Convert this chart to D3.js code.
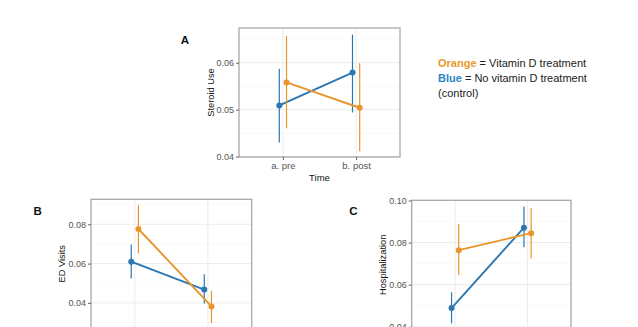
<!DOCTYPE html>
<html><head><meta charset="utf-8">
<script src="https://cdn.jsdelivr.net/npm/d3@7"></script>
<style>
body{margin:0;background:#fff;}
svg{display:block;font-family:"Liberation Sans",Arial,sans-serif;}
</style></head><body>
<svg id="c" width="638" height="327"></svg>
<script>
// ---- data ----
const times = ["a. pre", "b. post"];
const groups = ["Blue", "Orange"];
// Panel A: Steroid Use
const steroidBlue = [0.0509, 0.0579];
const steroidBlueLo = [0.0430, 0.0494];
const steroidBlueHi = [0.0587, 0.0660];
const steroidOrange = [0.0558, 0.0504];
const steroidOrangeLo = [0.0460, 0.0411];
const steroidOrangeHi = [0.0657, 0.0599];
const steroidTicks = [0.04, 0.05, 0.06];
// Panel B: ED Visits
const edBlue = [0.0610, 0.0468];
const edBlueLo = [0.0524, 0.0397];
const edBlueHi = [0.0697, 0.0546];
const edOrange = [0.0776, 0.0382];
const edOrangeLo = [0.0651, 0.0298];
const edOrangeHi = [0.0897, 0.0461];
const edTicks = [0.04, 0.06, 0.08];
// Panel C: Hospitalization
const hospBlue = [0.0489, 0.0871];
const hospBlueLo = [0.0416, 0.0778];
const hospBlueHi = [0.0564, 0.0971];
const hospOrange = [0.0764, 0.0845];
const hospOrangeLo = [0.0646, 0.0725];
const hospOrangeHi = [0.0888, 0.0963];
const hospTicks = [0.04, 0.06, 0.08, 0.10];

const colors = {Blue: "#2a77b2", Orange: "#e8962c"};

const svg = d3.select("#c");

function panel(opt) {
  const {x0, x1, y0, y1, domain, ticks, title, letter, lx, ly, series, showX} = opt;
  const g = svg.append("g");
  const x = d3.scalePoint().domain(times).range([x0, x1]).padding(0.6);
  const y = d3.scaleLinear().domain(domain).range([y1, y0]);
  // grid
  const minor = [];
  for (let i = 0; i < ticks.length + 1; i++) {
    const step = ticks[1] - ticks[0];
    const m = ticks[0] + step * (i - 0.5);
    if (m > domain[0] && m < domain[1]) minor.push(m);
  }
  g.selectAll(".mn").data(minor).join("line")
    .attr("x1", x0).attr("x2", x1).attr("y1", d => y(d)).attr("y2", d => y(d))
    .attr("stroke", "#f5f5f5").attr("stroke-width", 0.6);
  g.selectAll(".gy").data(ticks.filter(t => t >= domain[0] && t <= domain[1])).join("line")
    .attr("x1", x0).attr("x2", x1).attr("y1", d => y(d)).attr("y2", d => y(d))
    .attr("stroke", "#ececec").attr("stroke-width", 1);
  g.selectAll(".gx").data(times).join("line")
    .attr("x1", d => x(d)).attr("x2", d => x(d)).attr("y1", y0).attr("y2", y1)
    .attr("stroke", "#ececec").attr("stroke-width", 1);
  // series
  series.forEach(s => {
    const px = (d, i) => x(times[i]) + s.dodge;
    g.selectAll(null).data(s.lo).join("line")
      .attr("x1", px).attr("x2", px)
      .attr("y1", d => y(d)).attr("y2", (d, i) => y(s.hi[i]))
      .attr("stroke", s.color).attr("stroke-width", 1.2);
    const line = d3.line().x((d, i) => px(d, i)).y(d => y(d));
    g.append("path").attr("d", line(s.v)).attr("fill", "none")
      .attr("stroke", s.color).attr("stroke-width", 1.9);
    g.selectAll(null).data(s.v).join("circle")
      .attr("cx", px).attr("cy", d => y(d)).attr("r", 3).attr("fill", s.color);
  });
  // border
  g.append("rect").attr("x", x0).attr("y", y0).attr("width", x1 - x0).attr("height", y1 - y0)
    .attr("fill", "none").attr("stroke", "#a8a8a8").attr("stroke-width", 1.3);
  // y axis
  const ya = g.append("g").attr("transform", `translate(${x0},0)`)
    .call(d3.axisLeft(y).tickValues(ticks).tickFormat(d3.format(".2f")).tickSize(3).tickPadding(2));
  ya.select(".domain").remove();
  ya.selectAll("line").attr("stroke", "#666");
  ya.selectAll("text").attr("fill", "#555").attr("font-size", 9).attr("font-family", "Liberation Sans, Arial, sans-serif");
  if (showX) {
    const xa = g.append("g").attr("transform", `translate(0,${y1})`)
      .call(d3.axisBottom(x).tickSize(3).tickPadding(2));
    xa.select(".domain").remove();
    xa.selectAll("line").attr("stroke", "#666");
    xa.selectAll("text").attr("fill", "#555").attr("font-size", 9.5).attr("font-family", "Liberation Sans, Arial, sans-serif");
    g.append("text").attr("x", (x0 + x1) / 2).attr("y", y1 + 24).attr("text-anchor", "middle")
      .attr("font-size", 9.5).attr("fill", "#111").text("Time");
  }
  g.append("text").attr("transform", `translate(${opt.tx},${(y0 + y1) / 2}) rotate(-90)`)
    .attr("text-anchor", "middle").attr("dominant-baseline", "central")
    .attr("font-size", 9.3).attr("fill", "#111").text(title);
  g.append("text").attr("x", lx).attr("y", ly).attr("text-anchor", "middle")
    .attr("dominant-baseline", "central").attr("font-size", 11.5).attr("font-weight", "bold")
    .attr("fill", "#111").text(letter);
}

const dodge = 3.6;
function mk(b, bl, bh, o, ol, oh) {
  return [
    {v: b, lo: bl, hi: bh, color: colors.Blue, dodge: -dodge},
    {v: o, lo: ol, hi: oh, color: colors.Orange, dodge: dodge}
  ];
}

panel({x0: 239, x1: 400, y0: 28, y1: 157, domain: [0.0399, 0.0674], ticks: steroidTicks,
  title: "Steroid Use", letter: "A", lx: 185, ly: 40, tx: 210.5, showX: true,
  series: mk(steroidBlue, steroidBlueLo, steroidBlueHi, steroidOrange, steroidOrangeLo, steroidOrangeHi)});
panel({x0: 91, x1: 251.7, y0: 199.3, y1: 328.3, domain: [0.0271, 0.0927], ticks: edTicks,
  title: "ED Visits", letter: "B", lx: 37.7, ly: 210.7, tx: 61.5, showX: false,
  series: mk(edBlue, edBlueLo, edBlueHi, edOrange, edOrangeLo, edOrangeHi)});
panel({x0: 411.7, x1: 571, y0: 200.3, y1: 329.3, domain: [0.0388, 0.1001], ticks: hospTicks,
  title: "Hospitalization", letter: "C", lx: 353.3, ly: 210.7, tx: 383, showX: false,
  series: mk(hospBlue, hospBlueLo, hospBlueHi, hospOrange, hospOrangeLo, hospOrangeHi)});

// legend text
const leg = svg.append("g").attr("font-size", 11).attr("fill", "#222");
const l1 = leg.append("text").attr("x", 438).attr("y", 63.3).attr("dominant-baseline", "central");
l1.append("tspan").attr("font-weight", "bold").attr("fill", "#e89a2a").text("Orange");
l1.append("tspan").text(" = Vitamin D treatment");
const l2 = leg.append("text").attr("x", 438).attr("y", 77.7).attr("dominant-baseline", "central");
l2.append("tspan").attr("font-weight", "bold").attr("fill", "#2a86c4").text("Blue");
l2.append("tspan").text(" = No vitamin D treatment");
leg.append("text").attr("x", 438).attr("y", 92.5).attr("dominant-baseline", "central").text("(control)");
</script>
</body></html>
